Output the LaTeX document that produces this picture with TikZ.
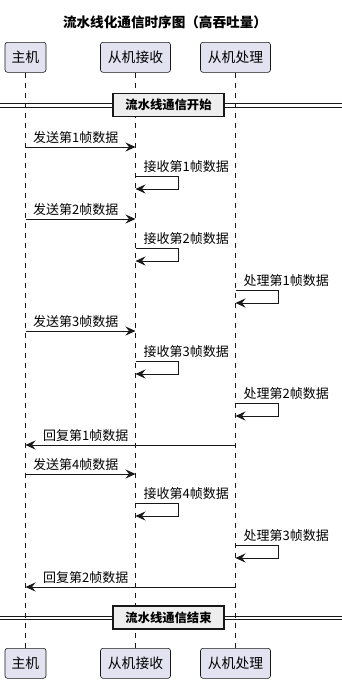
\documentclass[tikz,border=0pt]{standalone}
\usepackage{fontspec}
\setmainfont{Noto Sans CJK SC}
\usetikzlibrary{arrows.meta}
\definecolor{partfill}{HTML}{E2E2F0}
\definecolor{ink}{HTML}{181818}
\definecolor{divfill}{HTML}{EEEEEE}
\tikzset{
  part/.style={draw=ink, fill=partfill, rounded corners=2.5pt, line width=0.6pt,
    minimum height=30pt, inner xsep=6pt, font=\fontsize{13.8}{15}\selectfont, anchor=north},
  life/.style={draw=ink, line width=0.5pt, dash pattern=on 5pt off 5pt},
  msg/.style={draw=ink, line width=0.8pt, -{Stealth[length=10pt,width=9pt,inset=3.5pt]}},
  lbl/.style={font=\fontsize{13}{14}\selectfont, anchor=base west, inner sep=0pt, text=black},
  divbox/.style={draw=ink, fill=divfill, line width=1.5pt, minimum width=111pt, minimum height=23pt,
    font=\bfseries\fontsize{12.3}{14}\selectfont, inner sep=0pt},
  divline/.style={draw=ink, line width=0.9pt},
}
\begin{document}
\begin{tikzpicture}[x=1pt,y=-1pt]
\useasboundingbox (0,0) rectangle (342,683);
\node[font=\bfseries\fontsize{13.6}{15}\selectfont] (title) at (165,22) {流水线化通信时序图（高吞吐量）};
% participants
\node[part, minimum width=41pt] (P1) at (25.5,42) {主机};
\node[part, minimum width=70pt] (P2) at (135.5,42) {从机接收};
\node[part, minimum width=70pt] (P3) at (235.5,42) {从机处理};
\node[part, minimum width=41pt] (Q1) at (25.5,648) {主机};
\node[part, minimum width=70pt] (Q2) at (135.5,648) {从机接收};
\node[part, minimum width=70pt] (Q3) at (235.5,648) {从机处理};
\draw[life] (P1.south) -- (Q1.north);
\draw[life] (P2.south) -- (Q2.north);
\draw[life] (P3.south) -- (Q3.north);
% dividers
\coordinate (d1l) at (0,105.5); \coordinate (d1r) at (342,105.5);
\draw[divline] ([yshift=-1.6pt]d1l) -- ([yshift=-1.6pt]d1r);
\draw[divline] ([yshift=1.6pt]d1l) -- ([yshift=1.6pt]d1r);
\node[divbox] (D1) at (168.5,105) {流水线通信开始};
\coordinate (d2l) at (0,618); \coordinate (d2r) at (342,618);
\draw[divline] ([yshift=-1.6pt]d2l) -- ([yshift=-1.6pt]d2r);
\draw[divline] ([yshift=1.6pt]d2l) -- ([yshift=1.6pt]d2r);
\node[divbox] (D2) at (168.5,617.5) {流水线通信结束};
% message coordinates
\coordinate (a1) at (25.5,147); \coordinate (b1) at (135.5,147);
\coordinate (a2) at (25.5,219); \coordinate (b2) at (135.5,219);
\coordinate (a3) at (25.5,331); \coordinate (b3) at (135.5,331);
\coordinate (a4) at (25.5,474); \coordinate (b4) at (135.5,474);
\coordinate (r1s) at (235.5,445); \coordinate (r1e) at (25.5,445);
\coordinate (r2s) at (235.5,587); \coordinate (r2e) at (25.5,587);
% sends
\draw[msg] (a1) -- (b1);
\node[lbl] (l1) at (33,142) {发送第1帧数据};
\draw[msg] (a2) -- (b2);
\node[lbl] (l2) at (33,214) {发送第2帧数据};
\draw[msg] (a3) -- (b3);
\node[lbl] (l3) at (33,326) {发送第3帧数据};
\draw[msg] (a4) -- (b4);
\node[lbl] (l4) at (33,469) {发送第4帧数据};
% replies
\draw[msg] (r1s) -- (r1e);
\node[lbl] (l5) at (43,440) {回复第1帧数据};
\draw[msg] (r2s) -- (r2e);
\node[lbl] (l6) at (43,582) {回复第2帧数据};
% self loops
\foreach \y/\x/\t/\n in {176/135.5/接收第1帧数据/s1, 248/135.5/接收第2帧数据/s2, 290/235.5/处理第1帧数据/s3,
  361/135.5/接收第3帧数据/s4, 403/235.5/处理第2帧数据/s5, 503/135.5/接收第4帧数据/s6, 545/235.5/处理第3帧数据/s7}{
  \coordinate (\n a) at (\x,\y);
  \coordinate (\n b) at (\x,\y+13);
  \draw[msg] (\n a) -- ++(43,0) |- (\n b);
  \node[lbl] (\n l) at (\x+8,\y-5) {\t};
}
\end{tikzpicture}
\end{document}
